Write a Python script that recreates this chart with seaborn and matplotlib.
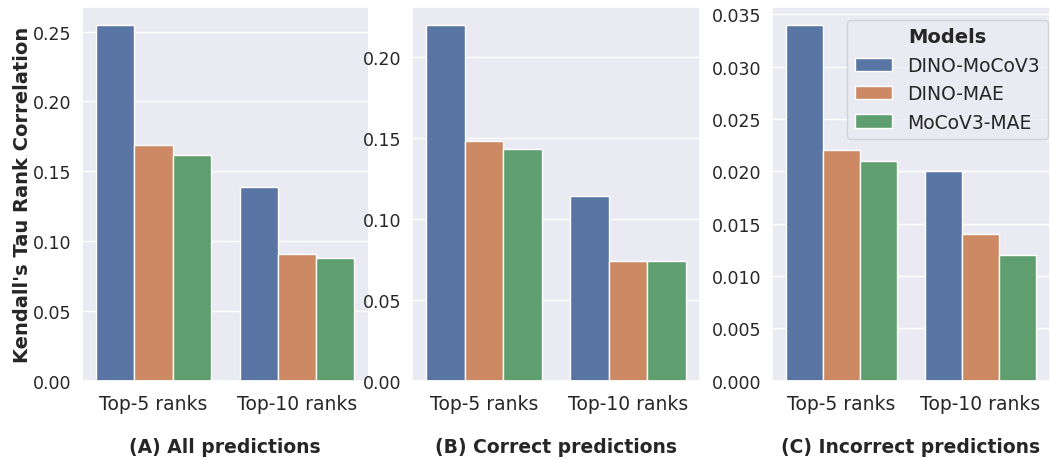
import matplotlib
matplotlib.use("Agg")
import matplotlib.pyplot as plt
import seaborn as sns
import pandas as pd

ranks = ["Top-5 ranks", "Top-10 ranks"]
models = ["DINO-MoCoV3", "DINO-MAE", "MoCoV3-MAE"]

all_preds = [[0.255, 0.169, 0.162], [0.139, 0.091, 0.088]]
correct_preds = [[0.220, 0.148, 0.143], [0.114, 0.074, 0.074]]
incorrect_preds = [[0.034, 0.022, 0.021], [0.020, 0.014, 0.012]]

titles = ["(A) All predictions", "(B) Correct predictions", "(C) Incorrect predictions"]
yticks = [
    [0.00, 0.05, 0.10, 0.15, 0.20, 0.25],
    [0.00, 0.05, 0.10, 0.15, 0.20],
    [0.000, 0.005, 0.010, 0.015, 0.020, 0.025, 0.030, 0.035],
]
ytick_fmt = ["{:.2f}", "{:.2f}", "{:.3f}"]


def to_frame(values):
    rows = []
    for i, r in enumerate(ranks):
        for j, m in enumerate(models):
            rows.append({"Rank": r, "Models": m, "value": values[i][j]})
    return pd.DataFrame(rows)


sns.set_theme(style="darkgrid")
fig = plt.figure(figsize=(10.5, 4.6), dpi=100)
boxes = [(0.078, 0.170, 0.273, 0.813),
         (0.392, 0.170, 0.275, 0.813),
         (0.735, 0.170, 0.265, 0.813)]

for k, vals in enumerate([all_preds, correct_preds, incorrect_preds]):
    ax = fig.add_axes(boxes[k])
    df = to_frame(vals)
    sns.barplot(data=df, x="Rank", y="value", hue="Models", ax=ax,
                legend=(k == 2))
    ax.set_yticks(yticks[k])
    ax.set_yticklabels([ytick_fmt[k].format(t) for t in yticks[k]], fontsize=12.5)
    ax.tick_params(axis="y", pad=1.5)
    ax.tick_params(axis="x", labelsize=13.5)
    ax.set_xlabel(titles[k], fontsize=13.5, fontweight="bold", labelpad=17)
    if k == 0:
        ax.set_ylabel("Kendall's Tau Rank Correlation", fontsize=14,
                      fontweight="bold", labelpad=1)
    else:
        ax.set_ylabel("")
    if k == 2:
        ax.legend(title="Models", loc="upper right", fontsize=13.5,
                  bbox_to_anchor=(1.025, 0.99),
                  title_fontproperties={"weight": "bold", "size": 14})

fig.savefig("out.png", dpi=100)
